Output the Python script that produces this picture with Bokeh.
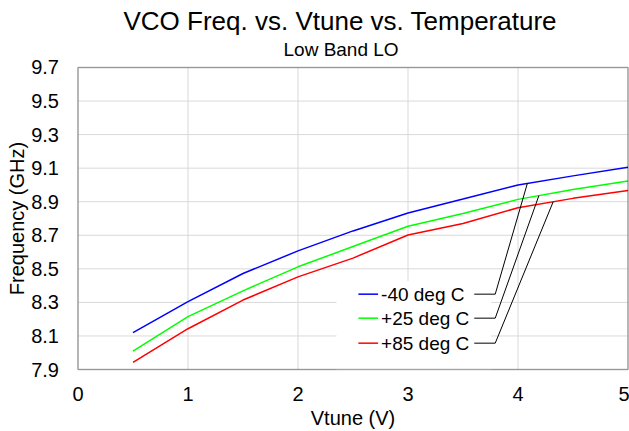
import numpy as np
from bokeh.plotting import figure
from bokeh.models import Range1d, Title, FixedTicker, BoxAnnotation
from bokeh.core.properties import value
from bokeh.embed import file_html
from bokeh.resources import INLINE

# ---- data ----
vtune = [0.5, 1.0, 1.5, 2.0, 2.5, 3.0, 3.5, 4.0, 4.5, 5.0]
freq_m40 = [8.120, 8.305, 8.472, 8.607, 8.726, 8.833, 8.916, 9.000, 9.054, 9.106]
freq_p25 = [8.010, 8.215, 8.369, 8.512, 8.633, 8.754, 8.830, 8.914, 8.973, 9.023]
freq_p85 = [7.942, 8.143, 8.314, 8.452, 8.564, 8.702, 8.770, 8.864, 8.920, 8.967]
series_labels = ["-40 deg C", "+25 deg C", "+85 deg C"]
series_colors = ["#0000FF", "#00FF00", "#FF0000"]
x_ticks = [0, 1, 2, 3, 4, 5]
y_ticks = [7.9, 8.1, 8.3, 8.5, 8.7, 8.9, 9.1, 9.3, 9.5, 9.7]
x_lim = (0, 5)
y_lim = (7.9, 9.7)
# visible window (extra room around the data box for the axis texts)
x_view = (-0.7045, 5.0136)
y_view = (7.5305, 9.7536)

# legend / leader-line anchors (data space)
legend_row_y = [8.349, 8.206, 8.057]
legend_line_x = [2.549, 2.728]
legend_text_x = 2.755
legend_box = (2.35, 3.757, 7.9, 8.427)
leader_start_x = [3.602, 3.793]
leader_end_x = [4.085, 4.19, 4.32]

FONT = "Liberation Sans"

p = figure(width=629, height=431,
           x_range=Range1d(*x_view), y_range=Range1d(*y_view),
           output_backend="svg", toolbar_location=None,
           min_border_left=0, min_border_right=0,
           min_border_top=0, min_border_bottom=0)

p.title.text = "VCO Freq. vs. Vtune  vs. Temperature"
p.title.align = "left"
p.title.offset = 123
p.title.text_font = FONT
p.title.text_font_size = "26px"
p.title.text_font_style = "normal"
p.title.text_color = "black"
p.title.standoff = 6

sub = Title(text="Low Band LO", align="left", offset=283, text_font=FONT,
            text_font_size="19px", text_font_style="normal",
            text_color="black", standoff=-3)
p.add_layout(sub, "above")

p.background_fill_color = "white"
p.border_fill_color = "white"
p.outline_line_color = None
p.grid.visible = False

for ax in (p.xaxis, p.yaxis):
    ax.axis_line_color = None
    ax.major_tick_line_color = None
    ax.minor_tick_line_color = None
    ax.major_tick_out = 0
    ax.major_tick_in = 0
    ax.major_label_text_font = FONT
    ax.major_label_text_font_size = "20px"
    ax.major_label_text_color = "black"
    ax.axis_label_text_font = FONT
    ax.axis_label_text_font_size = "20px"
    ax.axis_label_text_font_style = "normal"
    ax.axis_label_text_color = "black"

p.xaxis.ticker = FixedTicker(ticks=x_ticks)
p.yaxis.ticker = FixedTicker(ticks=y_ticks)
p.yaxis.major_label_overrides = {t: f"{t:.1f}" for t in y_ticks}
p.xaxis.bounds = x_lim
p.yaxis.bounds = y_lim
p.xaxis.fixed_location = y_lim[0]
p.yaxis.fixed_location = x_lim[0]
p.xaxis.major_label_standoff = 17
p.yaxis.major_label_standoff = 19
p.xaxis.axis_label = "Vtune (V)"
p.xaxis.axis_label_standoff = 3
p.yaxis.axis_label = "Frequency (GHz)"
p.yaxis.axis_label_standoff = 0

# gridlines inside the data box only
grid_color = "#d9d9d9"
p.segment(x0=x_ticks, y0=[y_lim[0]] * len(x_ticks),
          x1=x_ticks, y1=[y_lim[1]] * len(x_ticks),
          line_color=grid_color, line_width=1)
p.segment(x0=[x_lim[0]] * len(y_ticks), y0=y_ticks,
          x1=[x_lim[1]] * len(y_ticks), y1=y_ticks,
          line_color=grid_color, line_width=1)

# plot-area border
p.add_layout(BoxAnnotation(left=x_lim[0], right=x_lim[1],
                           bottom=y_lim[0], top=y_lim[1],
                           fill_alpha=0, line_color="black",
                           line_width=1.5, level="overlay"))

all_series = [freq_m40, freq_p25, freq_p85]
for ys, c in zip(all_series, series_colors):
    p.line(vtune, ys, line_color=c, line_width=1.5)

# legend box (white, covers grid)
bx0, bx1, by0, by1 = legend_box
p.quad(left=[bx0], right=[bx1], bottom=[by0], top=[by1],
       fill_color="white", line_color=None)

for ry, c in zip(legend_row_y, series_colors):
    p.line(legend_line_x, [ry, ry], line_color=c, line_width=1.5)

p.text(x=[legend_text_x] * 3, y=legend_row_y, text=series_labels,
       text_font=value(FONT), text_font_size="19px",
       text_baseline="middle", text_align="left", text_color="black")

lxs, lys = [], []
for ry, ex, ys in zip(legend_row_y, leader_end_x, all_series):
    ey = float(np.interp(ex, vtune, ys))
    lxs.append([leader_start_x[0], leader_start_x[1], ex])
    lys.append([ry, ry, ey])
p.multi_line(lxs, lys, line_color="black", line_width=1)

open("out.html", "w").write(file_html(p, INLINE))
